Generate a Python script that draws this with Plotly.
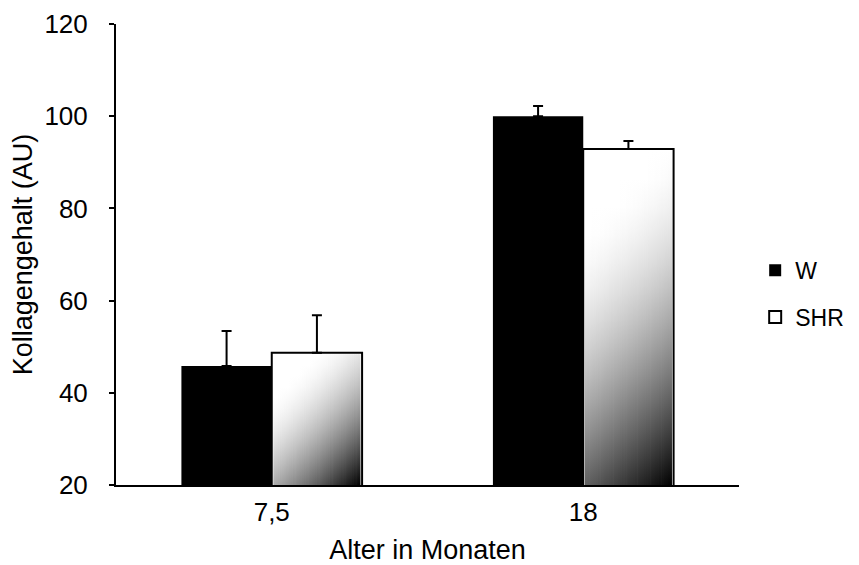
import numpy as np
import plotly.graph_objects as go

# ---- data ----
categories = ["7,5", "18"]
w_values = [45.8, 100.0]
w_err = [7.6, 2.2]
shr_values = [48.7, 92.9]
shr_err = [8.1, 1.7]
y_ticks = [20, 40, 60, 80, 100, 120]

# ---- layout constants (page body has an 8px margin) ----
FIG_W, FIG_H = 851, 557
MARGIN = dict(l=108, r=120, t=16, b=80)
Y_MIN, Y_MAX = 20, 120
X_MIN, X_MAX = -0.5, 1.5
BARGAP = 0.42
BAR_W = (1 - BARGAP) / 2
FONT = "Liberation Sans, Arial, sans-serif"

px_x = (FIG_W - MARGIN["l"] - MARGIN["r"]) / (X_MAX - X_MIN)
px_y = (FIG_H - MARGIN["t"] - MARGIN["b"]) / (Y_MAX - Y_MIN)
xpos = list(range(len(categories)))


def lightness(t):
    s = max(0.0, (t - 0.2) / 0.8)
    return 1 - min(1.0, s) ** 1.6


fig = go.Figure()

fig.add_trace(go.Bar(
    x=xpos, y=w_values, name="W", legendgroup="w",
    marker=dict(color="black", line=dict(color="black", width=0)),
    error_y=dict(type="data", array=w_err, arrayminus=[0] * len(w_err),
                 symmetric=False, color="black", thickness=2, width=5),
))
fig.add_trace(go.Bar(
    x=xpos, y=shr_values, name="SHR", legendgroup="shr",
    marker=dict(color="white", line=dict(color="black", width=2)),
    error_y=dict(type="data", array=shr_err, arrayminus=[0] * len(shr_err),
                 symmetric=False, color="black", thickness=2, width=5),
))

# diagonal gradient fill of the SHR bars (white top-left -> black bottom-right)
N = 40
inset = 1.6
for i, v in zip(xpos, shr_values):
    x_left = i + inset / px_x
    x_right = i + BAR_W - inset / px_x
    y_bot = Y_MIN
    y_top = v - inset / px_y
    wpx = (x_right - x_left) * px_x
    hpx = (y_top - y_bot) * px_y
    dx = (x_right - x_left) / N
    for k in range(N):
        xa = x_left + k * dx
        xb = min(x_left + (k + 1) * dx + 0.7 / px_x, x_right)
        u = (k + 0.5) * dx * px_x
        stops = []
        for s in np.linspace(0, 1, 13):
            vfrac = 1 - s
            t = (u + vfrac * hpx) / (wpx + hpx)
            g = int(round(255 * lightness(t)))
            stops.append([float(s), f"rgb({g},{g},{g})"])
        fig.add_trace(go.Scatter(
            x=[xa, xb, xb, xa, xa], y=[y_bot, y_bot, y_top, y_top, y_bot],
            fill="toself", mode="none",
            fillgradient=dict(type="vertical", start=y_bot, stop=y_top,
                              colorscale=stops),
            showlegend=False, hoverinfo="skip",
        ))

fig.update_layout(
    width=FIG_W, height=FIG_H,
    margin=MARGIN,
    paper_bgcolor="white", plot_bgcolor="white",
    barmode="group", bargap=BARGAP, bargroupgap=0,
    font=dict(family=FONT, color="black", size=26),
    showlegend=True,
    legend=dict(xref="container", yref="container",
                x=0.878, xanchor="left", y=0.487, yanchor="middle",
                font=dict(size=23), traceorder="grouped", tracegroupgap=14,
                bgcolor="rgba(0,0,0,0)"),
    xaxis=dict(range=[X_MIN, X_MAX], tickmode="array", tickvals=xpos,
               ticktext=categories, showline=True, linecolor="black",
               linewidth=2, ticks="", showgrid=False, zeroline=False,
               automargin=False,
               tickfont=dict(size=26), ticklabelstandoff=3,
               title=dict(text="Alter in Monaten", font=dict(size=27),
                          standoff=20)),
    yaxis=dict(range=[Y_MIN, Y_MAX], tickmode="array", tickvals=y_ticks,
               showline=True, linecolor="black", linewidth=2,
               ticks="outside", ticklen=5, tickwidth=2, tickcolor="black",
               showgrid=False, zeroline=False, tickfont=dict(size=26),
               automargin=False, ticklabelstandoff=16,
               title=dict(text="Kollagengehalt (AU)", font=dict(size=27),
                          standoff=8)),
)

fig.write_html("out.html")
